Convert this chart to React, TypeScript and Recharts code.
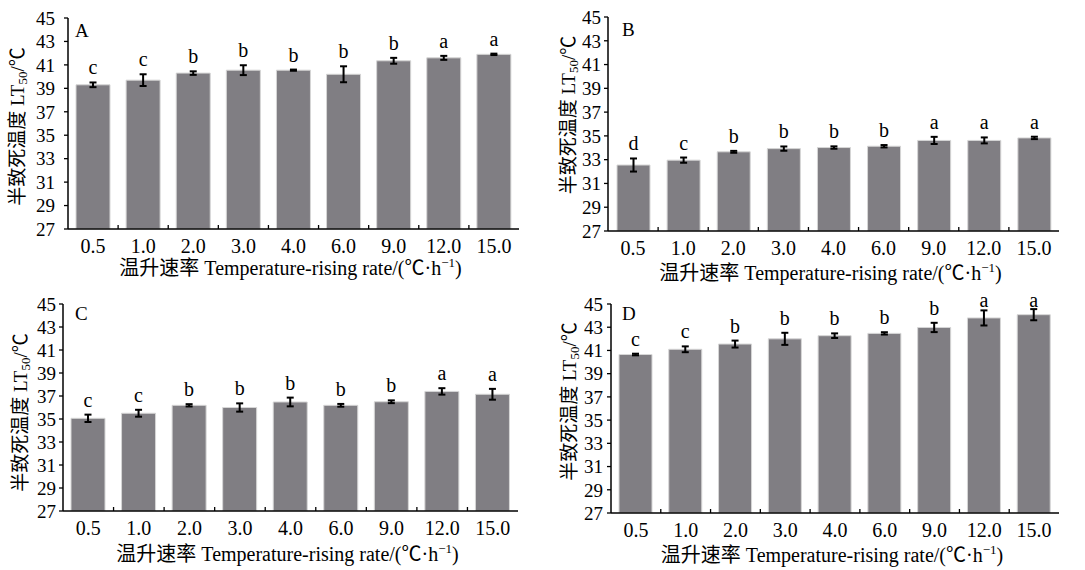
import React from "react";
import { BarChart, Bar, XAxis, YAxis, ErrorBar, LabelList } from "recharts";

const rates = ["0.5", "1.0", "2.0", "3.0", "4.0", "6.0", "9.0", "12.0", "15.0"];
const yTicks = [27, 29, 31, 33, 35, 37, 39, 41, 43, 45];

const meanA = [39.3, 39.7, 40.3, 40.55, 40.55, 40.2, 41.35, 41.6, 41.9];
const errA = [0.2, 0.5, 0.15, 0.42, 0.05, 0.68, 0.25, 0.17, 0.06];
const sigA = ["c", "c", "b", "b", "b", "b", "b", "a", "a"];

const meanB = [32.55, 32.96, 33.66, 33.93, 34.02, 34.13, 34.62, 34.62, 34.83];
const errB = [0.55, 0.22, 0.08, 0.18, 0.1, 0.1, 0.3, 0.25, 0.1];
const sigB = ["d", "c", "b", "b", "b", "b", "a", "a", "a"];

const meanC = [35.06, 35.5, 36.19, 36.0, 36.48, 36.19, 36.5, 37.4, 37.15];
const errC = [0.32, 0.3, 0.1, 0.36, 0.38, 0.12, 0.12, 0.28, 0.47];
const sigC = ["c", "c", "b", "b", "b", "b", "b", "a", "a"];

const meanD = [40.65, 41.1, 41.55, 42.0, 42.27, 42.47, 42.98, 43.8, 44.08];
const errD = [0.07, 0.25, 0.3, 0.52, 0.2, 0.1, 0.4, 0.65, 0.48];
const sigD = ["c", "c", "b", "b", "b", "b", "b", "a", "a"];

const FONT = "'Liberation Serif', 'Times New Roman', 'Noto Sans CJK SC', serif";
const BAR_FILL = "#807e83";
const Y_MIN = 27;
const Y_MAX = 45;

const panels = [
  { name: "A", mean: meanA, err: errA, sig: sigA, left: 0, top: 0, w: 540, margin: { top: 18, right: 21, left: 0, bottom: 0 }, yW: 68, xH: 56, tickGap: 9, labelCx: -51, labelDy: 3, letterDx: 7, letterDy: 19, titleDy: 46, barSize: 34 },
  { name: "B", mean: meanB, err: errB, sig: sigB, left: 540, top: 0, w: 545, margin: { top: 17, right: 26, left: 0, bottom: 0 }, yW: 68, xH: 54, tickGap: 3, labelCx: -40, labelDy: -9, letterDx: 14, letterDy: 19, titleDy: 49, barSize: 33 },
  { name: "C", mean: meanC, err: errC, sig: sigC, left: 0, top: 285, w: 540, margin: { top: 19, right: 22, left: 0, bottom: 0 }, yW: 63, xH: 59, tickGap: 3, labelCx: -43, labelDy: 5, letterDx: 12, letterDy: 16, titleDy: 50, barSize: 34 },
  { name: "D", mean: meanD, err: errD, sig: sigD, left: 540, top: 285, w: 545, margin: { top: 19, right: 26, left: 0, bottom: 0 }, yW: 71, xH: 57, tickGap: 4, labelCx: -42, labelDy: -7, letterDx: 11, letterDy: 16, titleDy: 49, barSize: 33 },
];

type Panel = (typeof panels)[number];

function Chart({ p }: { p: Panel }) {
  const height = 285;
  const plotW = p.w - p.margin.right - p.yW;
  const band = plotW / rates.length;
  const data = rates.map((r, i) => ({ rate: r, mean: p.mean[i], err: p.err[i], sig: p.sig[i] }));

  const XTick = (props: any) => {
    const { x, y, payload, index } = props;
    return (
      <g>
        <text x={x} y={y + 24} textAnchor="middle" fontSize={20} fontFamily={FONT} fill="#000">
          {payload.value}
        </text>
        {index < rates.length - 1 && (
          <line x1={x + band / 2} x2={x + band / 2} y1={y} y2={y - 4} stroke="#000" strokeWidth={1.3} />
        )}
      </g>
    );
  };

  // significance letters sit above the error bar, but never above the plot top
  const SigLabel = (props: any) => {
    const { x, y, width, height: h, value, index } = props;
    const row = data[index];
    const k = h / (row.mean - Y_MIN);
    const errTop = y - row.err * k;
    const plotTop = y + h - (Y_MAX - Y_MIN) * k;
    const ty = Math.max(errTop - 8, plotTop + 3);
    return (
      <text x={x + width / 2} y={ty} textAnchor="middle" fontSize={20} fontFamily={FONT} fill="#000">
        {value}
      </text>
    );
  };

  const yLabel = (props: any) => {
    const vb = props.viewBox;
    const axisX = vb.x + vb.width;
    const cx = axisX + p.labelCx;
    const cy = vb.y + vb.height / 2 + p.labelDy;
    return (
      <g>
        <text
          x={cx}
          y={cy}
          transform={`rotate(-90 ${cx} ${cy})`}
          textAnchor="middle"
          dominantBaseline="central"
          fontSize={19}
          fontFamily={FONT}
          fill="#000"
        >
          半致死温度 LT<tspan fontSize={13} dy={5}>50</tspan>
          <tspan dy={-5}>/℃</tspan>
        </text>
        <text x={axisX + p.letterDx} y={vb.y + p.letterDy} fontSize={19} fontFamily={FONT} fill="#000">
          {p.name}
        </text>
      </g>
    );
  };

  const xLabel = (props: any) => {
    const vb = props.viewBox;
    return (
      <text
        x={vb.x + vb.width / 2 - 3}
        y={vb.y + p.titleDy}
        textAnchor="middle"
        fontSize={20}
        fontFamily={FONT}
        fill="#000"
      >
        温升速率 Temperature-rising rate/(℃·h
        <tspan fontSize={13} dy={-8}>−1</tspan>
        <tspan dy={8}>)</tspan>
      </text>
    );
  };

  return (
    <div style={{ position: "absolute", left: p.left, top: p.top }}>
      <BarChart
        width={p.w}
        height={height}
        data={data}
        margin={p.margin}
        style={{ fontFamily: FONT, overflow: "visible" }}
      >
        <XAxis
          dataKey="rate"
          height={p.xH}
          tickLine={false}
          tickSize={0}
          tickMargin={0}
          interval={0}
          axisLine={{ stroke: "#000", strokeWidth: 1.5 }}
          tick={<XTick />}
          label={xLabel}
        />
        <YAxis
          type="number"
          domain={[Y_MIN, Y_MAX]}
          ticks={yTicks}
          interval={0}
          width={p.yW}
          allowDataOverflow
          tickSize={4}
          tickMargin={p.tickGap}
          axisLine={{ stroke: "#000", strokeWidth: 1.5 }}
          tickLine={{ stroke: "#000", strokeWidth: 1.3 }}
          tick={{ fill: "#000", fontSize: 19, fontFamily: FONT }}
          label={yLabel}
        />
        <Bar
          dataKey="mean"
          fill={BAR_FILL}
          stroke="#d6d6d6"
          strokeWidth={1}
          barSize={p.barSize}
          isAnimationActive={false}
        >
          <ErrorBar dataKey="err" width={3.5} strokeWidth={2} stroke="#000" isAnimationActive={false} />
          <LabelList dataKey="sig" content={SigLabel} />
        </Bar>
      </BarChart>
    </div>
  );
}

export default function App() {
  return (
    <div style={{ position: "absolute", left: 0, top: 0, width: 1085, height: 570, background: "#fff" }}>
      {panels.map((p) => (
        <Chart key={p.name} p={p} />
      ))}
    </div>
  );
}
